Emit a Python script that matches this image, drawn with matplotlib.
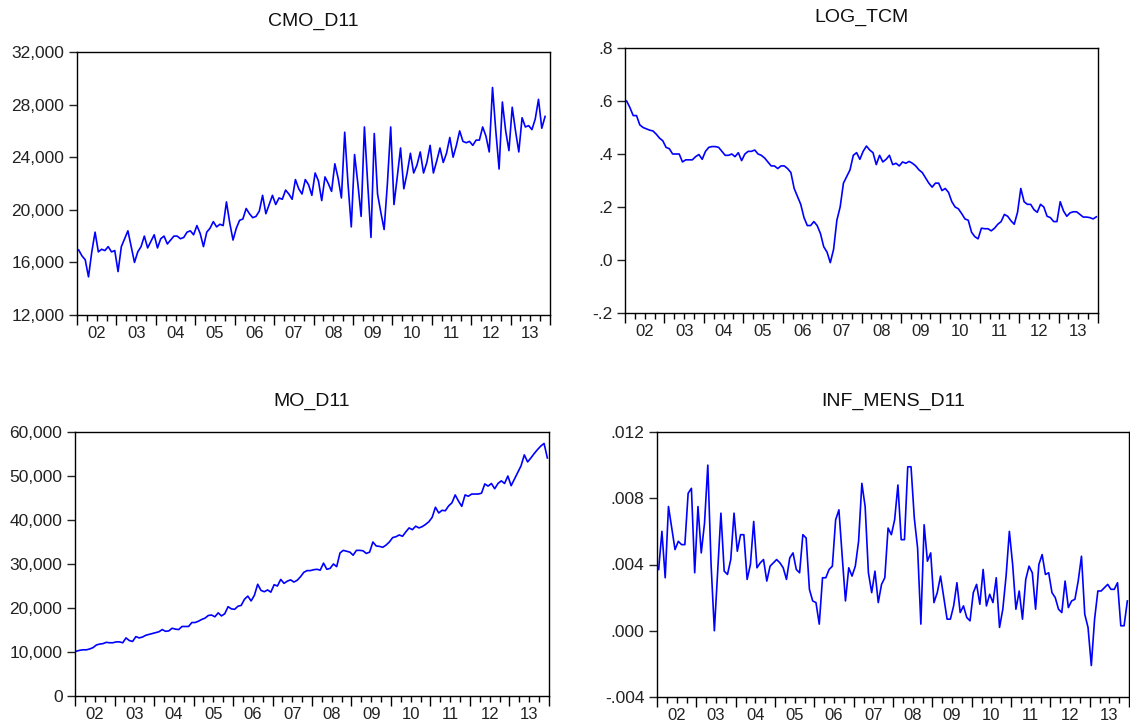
import numpy as np
import matplotlib
matplotlib.use('Agg')
import matplotlib.pyplot as plt
from matplotlib.ticker import FuncFormatter

plt.rcParams['font.family'] = ['Liberation Sans', 'DejaVu Sans']

# monthly observations, 2002M01 onwards
cmo_d11 = [16950, 16500, 16200, 14900, 16800, 18300, 16800, 17000, 16900, 17200, 16800, 16900,
           15300, 17200, 17800, 18400, 17200, 16000, 16800, 17200, 18000, 17100, 17600, 18100,
           17100, 17800, 18000, 17400, 17700, 18000, 18000, 17800, 17900, 18300, 18400, 18100,
           18800, 18200, 17200, 18300, 18600, 19100, 18700, 18900, 18800, 20600, 19000, 17700,
           18600, 19200, 19300, 20100, 19700, 19400, 19500, 19900, 21100, 19700, 20400, 21100,
           20400, 20900, 20800, 21500, 21200, 20800, 22300, 21600, 21200, 22300, 21900, 21100,
           22800, 22200, 20700, 22500, 22000, 21400, 23500, 22400, 20900, 25900, 22000, 18700,
           24200, 22000, 19500, 26300, 22000, 17900, 25800, 21200, 19800, 18500, 22000, 26300,
           20400, 22500, 24700, 21600, 22800, 24300, 22800, 23400, 24400, 22800, 23600, 24900,
           22800, 23700, 24700, 23600, 24300, 25500, 24000, 24900, 26000, 25200, 25100, 25200,
           24900, 25300, 25300, 26300, 25600, 24400, 29300, 26000, 23100, 28200, 26000, 24500,
           27800, 26000, 24400, 27000, 26300, 26400, 26100, 26900, 28400, 26200, 27100]

log_tcm = [0.600, 0.575, 0.545, 0.545, 0.510, 0.500, 0.495, 0.490, 0.487, 0.475, 0.460, 0.450,
           0.425, 0.420, 0.400, 0.400, 0.400, 0.370, 0.378, 0.378, 0.378, 0.390, 0.398, 0.380,
           0.410, 0.425, 0.428, 0.428, 0.425, 0.410, 0.395, 0.395, 0.400, 0.390, 0.405, 0.375,
           0.400, 0.410, 0.410, 0.415, 0.400, 0.395, 0.385, 0.370, 0.355, 0.355, 0.345, 0.355,
           0.355, 0.345, 0.330, 0.270, 0.240, 0.210, 0.160, 0.130, 0.130, 0.145, 0.130, 0.100,
           0.050, 0.030, -0.010, 0.040, 0.150, 0.200, 0.290, 0.315, 0.340, 0.395, 0.405, 0.380,
           0.410, 0.430, 0.415, 0.405, 0.360, 0.395, 0.370, 0.380, 0.395, 0.360, 0.365, 0.355,
           0.370, 0.365, 0.372, 0.365, 0.355, 0.340, 0.330, 0.310, 0.290, 0.275, 0.290, 0.290,
           0.262, 0.270, 0.255, 0.220, 0.200, 0.193, 0.175, 0.155, 0.150, 0.105, 0.088, 0.080,
           0.120, 0.118, 0.118, 0.110, 0.120, 0.135, 0.145, 0.172, 0.165, 0.148, 0.135, 0.180,
           0.270, 0.220, 0.210, 0.210, 0.190, 0.180, 0.210, 0.200, 0.165, 0.160, 0.145, 0.145,
           0.220, 0.185, 0.165, 0.178, 0.182, 0.182, 0.172, 0.162, 0.162, 0.160, 0.155, 0.163]

mo_d11 = [10200, 10400, 10500, 10500, 10700, 11000, 11600, 11800, 11900, 12200, 12100, 12100,
          12300, 12300, 12100, 13200, 12600, 12400, 13500, 13200, 13400, 13800, 14000, 14200,
          14400, 14600, 15100, 14700, 14800, 15400, 15200, 15100, 15800, 15800, 15800, 16700,
          16700, 17000, 17400, 17700, 18300, 18400, 18000, 18900, 18200, 18700, 20300, 19800,
          19700, 20400, 20600, 22000, 22700, 21600, 22900, 25400, 24000, 23700, 24100, 23600,
          25300, 25000, 26500, 25600, 26100, 26400, 25900, 26300, 27100, 28100, 28500, 28500,
          28700, 28800, 28600, 30200, 28800, 29000, 30000, 29400, 32500, 33100, 32900, 32700,
          32000, 33100, 33100, 33000, 32400, 32700, 35000, 34100, 34000, 33800, 34300, 35000,
          36000, 36200, 36600, 36300, 37300, 38200, 37800, 38600, 38200, 38500, 39000, 39600,
          40600, 42900, 41600, 42200, 42100, 43200, 43900, 45700, 44300, 43100, 45700, 45400,
          45900, 45900, 45900, 46100, 48200, 47700, 48300, 47100, 48300, 48900, 48300, 50000,
          47800, 49300, 50800, 52300, 54800, 53200, 54100, 55100, 56000, 56800, 57400, 54100]

inf_mens_d11 = [0.0037, 0.0060, 0.0032, 0.0075, 0.0062, 0.0049, 0.0054, 0.0052, 0.0052, 0.0083, 0.0086, 0.0035,
                0.0075, 0.0047, 0.0065, 0.0100, 0.0040, 0.0000, 0.0035, 0.0071, 0.0036, 0.0034, 0.0043, 0.0071,
                0.0048, 0.0058, 0.0058, 0.0031, 0.0040, 0.0066, 0.0038, 0.0041, 0.0043, 0.0030, 0.0039, 0.0041,
                0.0043, 0.0041, 0.0038, 0.0031, 0.0044, 0.0047, 0.0037, 0.0035, 0.0058, 0.0056, 0.0025, 0.0018,
                0.0017, 0.0004, 0.0032, 0.0032, 0.0037, 0.0039, 0.0067, 0.0073, 0.0045, 0.0018, 0.0038, 0.0033,
                0.0039, 0.0054, 0.0089, 0.0075, 0.0035, 0.0023, 0.0036, 0.0017, 0.0028, 0.0032, 0.0062, 0.0058,
                0.0067, 0.0088, 0.0055, 0.0055, 0.0099, 0.0099, 0.0068, 0.0050, 0.0004, 0.0064, 0.0042, 0.0047,
                0.0017, 0.0023, 0.0033, 0.0020, 0.0007, 0.0007, 0.0015, 0.0029, 0.0011, 0.0015, 0.0008, 0.0006,
                0.0023, 0.0028, 0.0016, 0.0037, 0.0015, 0.0022, 0.0017, 0.0032, 0.0002, 0.0013, 0.0033, 0.0060,
                0.0040, 0.0013, 0.0024, 0.0007, 0.0031, 0.0039, 0.0035, 0.0013, 0.0040, 0.0046, 0.0034, 0.0035,
                0.0023, 0.0020, 0.0013, 0.0011, 0.0030, 0.0014, 0.0018, 0.0019, 0.0030, 0.0045, 0.0010, 0.0002,
                -0.0021, 0.0007, 0.0024, 0.0024, 0.0026, 0.0028, 0.0025, 0.0025, 0.0029, 0.0003, 0.0003, 0.0018]

year_labels = ['02', '03', '04', '05', '06', '07', '08', '09', '10', '11', '12', '13']
n_months = 12 * len(year_labels)


def comma_fmt(v, pos):
    return f'{v:,.0f}'


def dec_fmt(nd):
    def f(v, pos):
        s = f'{v:.{nd}f}'
        if s.startswith('-0'):
            s = '-' + s[2:]
        elif s.startswith('0'):
            s = s[1:]
        return s
    return f


panels = [
    ('CMO_D11', cmo_d11, (12000, 32000), np.arange(12000, 32001, 4000), comma_fmt,
     [77, 52, 550, 315]),
    ('LOG_TCM', log_tcm, (-0.2, 0.8), np.arange(-0.2, 0.81, 0.2), dec_fmt(1),
     [625, 48, 1098, 313]),
    ('MO_D11', mo_d11, (0, 60000), np.arange(0, 60001, 10000), comma_fmt,
     [75, 432, 549, 696]),
    ('INF_MENS_D11', inf_mens_d11, (-0.004, 0.012), np.arange(-0.004, 0.0121, 0.004), dec_fmt(3),
     [657, 432, 1129, 697]),
]

W, H = 1130, 725
fig = plt.figure(figsize=(W / 100, H / 100), dpi=100)

for title, vals, ylim, yticks, fmt, box in panels:
    x0, y0, x1, y1 = box
    ax = fig.add_axes([x0 / W, 1 - y1 / H, (x1 - x0) / W, (y1 - y0) / H])
    ax.plot(np.arange(len(vals)), vals, color='#0000ff', lw=1.2)
    ax.set_xlim(-0.5, n_months - 0.5)
    ax.set_ylim(*ylim)
    ax.set_yticks(yticks)
    ax.yaxis.set_major_formatter(FuncFormatter(fmt))
    ax.tick_params(axis='y', direction='out', length=6, width=1, pad=3,
                   labelsize=12.5, colors='#222222')
    ax.tick_params(axis='y', right=False)

    ax.set_xticks(np.arange(-0.5, n_months, 12))
    ax.set_xticks(np.arange(-0.5, n_months, 3), minor=True)
    ax.tick_params(axis='x', which='major', direction='out', length=7, width=1, labelbottom=False)
    ax.tick_params(axis='x', which='minor', direction='out', length=4, width=1)

    sec = ax.secondary_xaxis('bottom')
    sec.set_xticks(np.arange(5.5, n_months, 12), labels=year_labels)
    sec.tick_params(length=0, pad=8, labelsize=12, colors='#222222')
    sec.spines['bottom'].set_visible(False)

    for sp in ax.spines.values():
        sp.set_linewidth(1)
        sp.set_color('black')

    ax.set_title(title, fontsize=14, pad=19, color='#111111')

fig.savefig('out.png', dpi=100)
